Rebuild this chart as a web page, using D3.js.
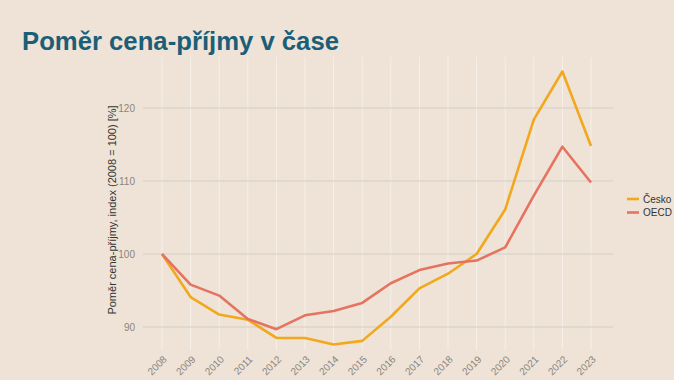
<!DOCTYPE html>
<html><head><meta charset="utf-8">
<script src="https://cdn.jsdelivr.net/npm/d3@7"></script>
<style>
html,body{margin:0;padding:0;background:#EEE3D6;}
svg{display:block;}
</style></head>
<body>
<script>
const years = [2008,2009,2010,2011,2012,2013,2014,2015,2016,2017,2018,2019,2020,2021,2022,2023];
const cesko = [100,94.1,91.7,91.0,88.5,88.5,87.6,88.1,91.4,95.3,97.3,100.0,106.1,118.4,125.0,114.8];
const oecd  = [100,95.8,94.3,91.1,89.7,91.6,92.2,93.3,96.0,97.8,98.7,99.1,100.9,108.0,114.7,109.8];
const yTicks = [90,100,110,120];
const seriesNames = ["Česko","OECD"];
const seriesColors = ["#F2A81D","#E5735F"];

const W=674,H=380;
const svg=d3.select("body").append("svg").attr("width",W).attr("height",H);
svg.append("rect").attr("width",W).attr("height",H).attr("fill","#EEE3D6");

svg.append("text").attr("x",22).attr("y",50)
  .attr("font-family","Liberation Sans, Arial, sans-serif").attr("font-weight","bold")
  .attr("font-size",25.7).attr("fill","#1B5E78").text("Poměr cena-příjmy v čase");

const x=d3.scaleLinear().domain([2008,2023]).range([162,591]);
const y=d3.scaleLinear().domain([90,120]).range([327,108]);
const panel={l:143,r:613,t:57,b:350};

const g=svg.append("g");
g.selectAll(".vg").data(years).enter().append("line")
  .attr("x1",d=>x(d)).attr("x2",d=>x(d)).attr("y1",panel.t).attr("y2",panel.b)
  .attr("stroke","#F6F0E9").attr("stroke-width",1);
g.selectAll(".hg").data(yTicks).enter().append("line")
  .attr("x1",panel.l).attr("x2",panel.r).attr("y1",d=>y(d)).attr("y2",d=>y(d))
  .attr("stroke","#D4CDC6").attr("stroke-width",1);

const yAxis=d3.axisLeft(y).tickValues(yTicks).tickSize(0).tickPadding(8);
const ya=svg.append("g").attr("transform",`translate(${panel.l},0)`).call(yAxis);
ya.select(".domain").remove();
ya.selectAll("text").attr("font-family","Liberation Sans, Arial, sans-serif").attr("font-size",10).attr("fill","#8A8580");

const xAxis=d3.axisBottom(x).tickValues(years).tickFormat(d3.format("d")).tickSize(0);
const xa=svg.append("g").attr("transform",`translate(0,${panel.b})`).call(xAxis);
xa.select(".domain").remove();
xa.selectAll("text").attr("font-family","Liberation Sans, Arial, sans-serif").attr("font-size",10).attr("fill","#8A8580")
  .attr("text-anchor","end").attr("dy",null).attr("y",null)
  .attr("transform","translate(5,10) rotate(-45)");

svg.append("text").attr("transform","translate(116,210) rotate(-90)")
  .attr("text-anchor","middle").attr("font-family","Liberation Sans, Arial, sans-serif")
  .attr("font-size",11).attr("fill","#333").text("Poměr cena-příjmy, index (2008 = 100) [%]");

const line=d3.line().x((d,i)=>x(years[i])).y(d=>y(d));
[cesko,oecd].forEach((s,k)=>{
  svg.append("path").datum(s).attr("d",line).attr("fill","none")
    .attr("stroke",seriesColors[k]).attr("stroke-width",2.6).attr("stroke-linejoin","round");
});

const lg=svg.append("g").attr("transform","translate(627,199)");
seriesNames.forEach((n,i)=>{
  lg.append("line").attr("x1",0).attr("x2",12).attr("y1",i*13.5).attr("y2",i*13.5)
    .attr("stroke",seriesColors[i]).attr("stroke-width",2.6);
  lg.append("text").attr("x",16).attr("y",i*13.5+3.5).attr("font-family","Liberation Sans, Arial, sans-serif")
    .attr("font-size",10).attr("fill","#333").text(n);
});
</script>
</body></html>
